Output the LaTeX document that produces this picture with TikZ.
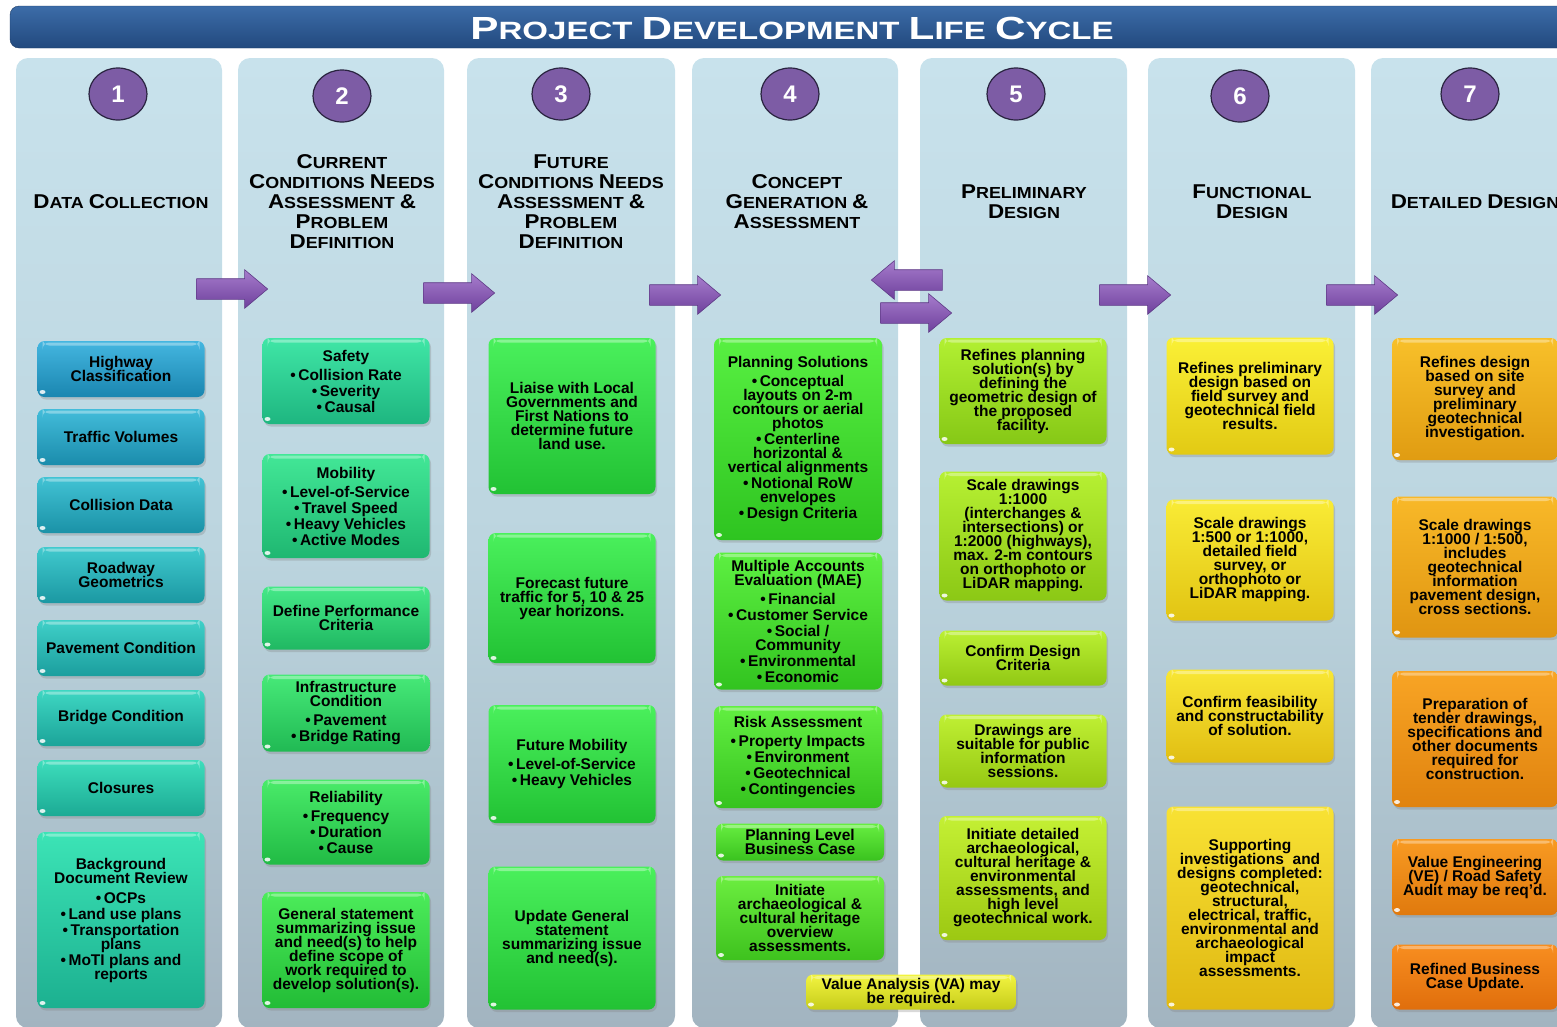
\documentclass[tikz,border=0pt]{standalone}
\usepackage{fontspec}
\setmainfont{Liberation Sans}
\newfontfamily\hdfont[FakeStretch=1.12]{Liberation Sans}
\newfontfamily\ttlfont[FakeStretch=1.32]{Liberation Sans}
\usetikzlibrary{shapes.geometric,shapes.arrows,shadows}
\lineskiplimit=-30pt

\definecolor{pnlA}{HTML}{C8E2EC}
\definecolor{pnlM}{HTML}{BCD5DF}
\definecolor{pnlB}{HTML}{A2B4C0}
\definecolor{ttlA}{HTML}{3C6CA8}
\definecolor{ttlB}{HTML}{22497E}
\definecolor{ttlC}{HTML}{1B3B66}
\definecolor{numfill}{HTML}{7D5CA5}
\definecolor{numline}{HTML}{2A2440}
\definecolor{arA}{HTML}{A67CCC}
\definecolor{arB}{HTML}{6E409C}
\definecolor{arC}{HTML}{5E3A86}
\definecolor{dA}{HTML}{44B6E0}
\definecolor{dB}{HTML}{1A86B0}
\definecolor{dC}{HTML}{3CE4B6}
\definecolor{dD}{HTML}{1CB090}
\definecolor{cA}{HTML}{40E6A6}
\definecolor{cB}{HTML}{1EB680}
\definecolor{cC}{HTML}{4CEC5A}
\definecolor{cD}{HTML}{22BC36}
\definecolor{fA}{HTML}{4AF05C}
\definecolor{fB}{HTML}{22C234}
\definecolor{gA}{HTML}{58F042}
\definecolor{gB}{HTML}{2EC420}
\definecolor{gC}{HTML}{6CEE40}
\definecolor{gD}{HTML}{3EC21E}
\definecolor{pA}{HTML}{B2F032}
\definecolor{pB}{HTML}{86C816}
\definecolor{pC}{HTML}{C4F034}
\definecolor{pD}{HTML}{9CC812}
\definecolor{vA}{HTML}{F2F440}
\definecolor{vB}{HTML}{C6CC1A}
\definecolor{uA}{HTML}{FAF036}
\definecolor{uB}{HTML}{E2CA14}
\definecolor{uC}{HTML}{F8E234}
\definecolor{uD}{HTML}{E0B812}
\definecolor{tA}{HTML}{F8C02A}
\definecolor{tB}{HTML}{E09C12}
\definecolor{tC}{HTML}{F88E20}
\definecolor{tD}{HTML}{E06E0C}

\newcommand{\bxfont}{\bfseries\fontsize{15.5}{14}\selectfont}
\newcommand{\bigc}[1]{{\fontsize{20}{20}\selectfont #1}}
\newcommand{\bigt}[1]{{\fontsize{32}{32}\selectfont #1}}

\begin{document}
\begin{tikzpicture}[x=1pt, y=-1pt,
  cbox/.style={rounded corners=7pt, minimum width=167pt, inner sep=1pt, align=center,
    font=\bxfont, text=black,
    drop shadow={shadow xshift=1.5pt, shadow yshift=-2.5pt, opacity=.3},
    path picture={
      \fill[white, opacity=.35] ([xshift=5pt, yshift=-1.5pt]path picture bounding box.north west)
        rectangle ([xshift=-5pt, yshift=-4.5pt]path picture bounding box.north east);
      \fill[white, opacity=.85] ([xshift=5pt, yshift=5pt]path picture bounding box.south west) ellipse (3pt and 2pt);
    }},
  dbx/.style={cbox, top color=dA!#1!dC, bottom color=dB!#1!dD},
  cbx/.style={cbox, top color=cA!#1!cC, bottom color=cB!#1!cD},
  fbx/.style={cbox, top color=fA, bottom color=fB},
  gbx/.style={cbox, top color=gA!#1!gC, bottom color=gB!#1!gD},
  pbx/.style={cbox, top color=pA!#1!pC, bottom color=pB!#1!pD},
  ubx/.style={cbox, top color=uA!#1!uC, bottom color=uB!#1!uD},
  tbx/.style={cbox, top color=tA!#1!tC, bottom color=tB!#1!tD},
  pnl/.style={rounded corners=12pt, top color=pnlA, bottom color=pnlB, middle color=pnlM},
  numc/.style={ellipse, draw=numline, line width=1.2pt, fill=numfill, minimum width=58pt,
    minimum height=52pt, inner sep=0pt, text=white, font=\bfseries\fontsize{24}{24}\selectfont},
  hd/.style={align=center, font=\hdfont\bfseries\fontsize{16}{20}\selectfont},
  blk/.style={single arrow, minimum height=71pt, single arrow head extend=9pt,
    single arrow tip angle=80, inner xsep=0pt, inner ysep=10pt, top color=arA, bottom color=arB,
    draw=arC, line width=.6pt}
]
\useasboundingbox (0,0) rectangle (1557,1026);
\clip (0,0) rectangle (1557,1026);

% title bar
\shade[rounded corners=9pt, top color=ttlA, bottom color=ttlB, draw=ttlC] (10,6) rectangle (1600,48);
\node[text=white, font=\ttlfont\bfseries\fontsize{25}{30}\selectfont] (title) at (792,28)
  {\bigt{P}ROJECT \bigt{D}EVELOPMENT \bigt{L}IFE \bigt{C}YCLE};

% panels
\shade[pnl] (16,58) rectangle (222,1028);
\shade[pnl] (238,58) rectangle (444,1028);
\shade[pnl] (467,58) rectangle (675,1028);
\shade[pnl] (692,58) rectangle (898,1028);
\shade[pnl] (920,58) rectangle (1127,1028);
\shade[pnl] (1148,58) rectangle (1355,1028);
\shade[pnl] (1371,58) rectangle (1580,1028);

% step numbers
\node[numc] (n1) at (118,94) {1};
\node[numc] (n2) at (342,96) {2};
\node[numc] (n3) at (561,94) {3};
\node[numc] (n4) at (790,94) {4};
\node[numc] (n5) at (1016,94) {5};
\node[numc] (n6) at (1240,96) {6};
\node[numc] (n7) at (1470,94) {7};

% headings
\node[hd] (h1) at (121,202) {\bigc{D}ATA \bigc{C}OLLECTION};
\node[hd] (h2) at (342,202) {\bigc{C}URRENT\\\bigc{C}ONDITIONS \bigc{N}EEDS\\\bigc{A}SSESSMENT \bigc{\&}\\\bigc{P}ROBLEM\\\bigc{D}EFINITION};
\node[hd] (h3) at (571,202) {\bigc{F}UTURE\\\bigc{C}ONDITIONS \bigc{N}EEDS\\\bigc{A}SSESSMENT \bigc{\&}\\\bigc{P}ROBLEM\\\bigc{D}EFINITION};
\node[hd] (h4) at (797,202) {\bigc{C}ONCEPT\\\bigc{G}ENERATION \bigc{\&}\\\bigc{A}SSESSMENT};
\node[hd] (h5) at (1024,202) {\bigc{P}RELIMINARY\\\bigc{D}ESIGN};
\node[hd] (h6) at (1252,202) {\bigc{F}UNCTIONAL\\\bigc{D}ESIGN};
\node[hd] (h7) at (1475,202) {\bigc{D}ETAILED \bigc{D}ESIGN};

% block arrows between steps
\node[blk] (a12) at (226,289) {};
\node[blk] (a23) at (453,293) {};
\node[blk] (a34) at (679,295) {};
\node[blk, shape border rotate=180] (a54) at (913,280) {};
\node[blk] (a45) at (910,313) {};
\node[blk] (a56) at (1129,295) {};
\node[blk] (a67) at (1356,295) {};

% 1 data collection
\node[dbx=100, minimum height=56pt] (d1) at (121,369) {Highway\\Classification};
\node[dbx=86, minimum height=56pt] (d2) at (121,437) {Traffic Volumes};
\node[dbx=72, minimum height=56pt] (d3) at (121,505) {Collision Data};
\node[dbx=57, minimum height=56pt] (d4) at (121,575) {Roadway\\Geometrics};
\node[dbx=43, minimum height=56pt] (d5) at (121,648) {Pavement Condition};
\node[dbx=29, minimum height=56pt] (d6) at (121,718) {Bridge Condition};
\node[dbx=14, minimum height=56pt] (d7) at (121,788) {Closures};
\node[dbx=0, minimum height=176pt] (d8) at (121,920) {Background\\Document Review\\[6pt]•\,OCPs\\[2pt]•\,Land use plans\\[2pt]•\,Transportation\\plans\\[2pt]•\,MoTI plans and\\reports};

% 2 current conditions
\node[cbx=100, minimum height=86pt] (c1) at (346,381) {Safety\\[5pt]•\,Collision Rate\\[2pt]•\,Severity\\[2pt]•\,Causal};
\node[cbx=80, minimum height=104pt] (c2) at (346,506) {Mobility\\[5pt]•\,Level-of-Service\\[2pt]•\,Travel Speed\\[2pt]•\,Heavy Vehicles\\[2pt]•\,Active Modes};
\node[cbx=60, minimum height=63pt] (c3) at (346,618) {Define Performance\\Criteria};
\node[cbx=40, minimum height=77pt] (c4) at (346,713) {Infrastructure\\Condition\\[5pt]•\,Pavement\\[2pt]•\,Bridge Rating};
\node[cbx=20, minimum height=85pt] (c5) at (346,822) {Reliability\\[5pt]•\,Frequency\\[2pt]•\,Duration\\[2pt]•\,Cause};
\node[cbx=0, minimum height=116pt] (c6) at (346,950) {General statement\\summarizing issue\\and need(s) to help\\define scope of\\work required to\\develop solution(s).};

% 3 future conditions
\node[fbx, minimum height=156pt] (f1) at (572,416) {Liaise with Local\\Governments and\\First Nations to\\determine future\\land use.};
\node[fbx, minimum height=130pt] (f2) at (572,598) {Forecast future\\traffic for 5, 10 \& 25\\year horizons.};
\node[fbx, minimum height=118pt] (f3) at (572,764) {Future Mobility\\[5pt]•\,Level-of-Service\\[2pt]•\,Heavy Vehicles};
\node[fbx, minimum height=143pt] (f4) at (572,938) {Update General\\statement\\summarizing issue\\and need(s).};

% 4 concept generation
\node[gbx=100, minimum width=168pt, minimum height=202pt] (g1) at (798,439) {Planning Solutions\\[5pt]•\,Conceptual\\layouts on 2-m\\contours or aerial\\photos\\[2pt]•\,Centerline\\horizontal \&\\vertical alignments\\[2pt]•\,Notional RoW\\envelopes\\[2pt]•\,Design Criteria};
\node[gbx=75, minimum width=168pt, minimum height=137pt] (g2) at (798,621) {Multiple Accounts\\Evaluation (MAE)\\[5pt]•\,Financial\\[2pt]•\,Customer Service\\[2pt]•\,Social /\\Community\\[2pt]•\,Environmental\\[2pt]•\,Economic};
\node[gbx=50, minimum width=168pt, minimum height=102pt] (g3) at (798,757) {Risk Assessment\\[5pt]•\,Property Impacts\\[2pt]•\,Environment\\[2pt]•\,Geotechnical\\[2pt]•\,Contingencies};
\node[gbx=25, minimum width=168pt, minimum height=37pt] (g4) at (800,842) {Planning Level\\Business Case};
\node[gbx=0, minimum width=168pt, minimum height=84pt] (g5) at (800,918) {Initiate\\archaeological \&\\cultural heritage\\overview\\assessments.};

% 5 preliminary design
\node[pbx=100, minimum height=106pt] (p1) at (1023,391) {Refines planning\\solution(s) by\\defining the\\geometric design of\\the proposed\\facility.};
\node[pbx=75, minimum height=129pt] (p2) at (1023,536) {Scale drawings\\1:1000\\(interchanges \&\\intersections) or\\1:2000 (highways),\\max. 2-m contours\\on orthophoto or\\LiDAR mapping.};
\node[pbx=50, minimum height=55pt] (p3) at (1023,658) {Confirm Design\\Criteria};
\node[pbx=25, minimum height=73pt] (p4) at (1023,751) {Drawings are\\suitable for public\\information\\sessions.};
\node[pbx=0, minimum height=124pt] (p5) at (1023,878) {Initiate detailed\\archaeological,\\cultural heritage \&\\environmental\\assessments, and\\high level\\geotechnical work.};

% value analysis, spans 4 and 5
\node[cbox, top color=vA, bottom color=vB, minimum width=210pt, minimum height=35pt] (va) at (911,992) {Value Analysis (VA) may\\be required.};

% 6 functional design
\node[ubx=100, minimum height=117pt] (u1) at (1250,396) {Refines preliminary\\design based on\\field survey and\\geotechnical field\\results.};
\node[ubx=67, minimum height=121pt] (u2) at (1250,560) {Scale drawings\\1:500 or 1:1000,\\detailed field\\survey, or\\orthophoto or\\LiDAR mapping.};
\node[ubx=33, minimum height=93pt] (u3) at (1250,716) {Confirm feasibility\\and constructability\\of solution.};
\node[ubx=0, minimum height=203pt] (u4) at (1250,908) {Supporting\\investigations\ \ and\\designs completed:\\geotechnical,\\structural,\\electrical, traffic,\\environmental and\\archaeological\\impact\\assessments.};

% 7 detailed design
\node[tbx=100, minimum width=166pt, minimum height=122pt] (t1) at (1475,399) {Refines design\\based on site\\survey and\\preliminary\\geotechnical\\investigation.};
\node[tbx=85, minimum width=166pt, minimum height=141pt] (t2) at (1475,567) {Scale drawings\\1:1000 / 1:500,\\includes\\geotechnical\\information\\pavement design,\\cross sections.};
\node[tbx=45, minimum width=166pt, minimum height=136pt] (t3) at (1475,739) {Preparation of\\tender drawings,\\specifications and\\other documents\\required for\\construction.};
\node[tbx=25, minimum width=166pt, minimum height=76pt] (t4) at (1475,877) {Value Engineering\\(VE) / Road Safety\\Audit may be req’d.};
\node[tbx=0, minimum width=166pt, minimum height=65pt] (t5) at (1475,977) {Refined Business\\Case Update.};
\end{tikzpicture}
\end{document}
